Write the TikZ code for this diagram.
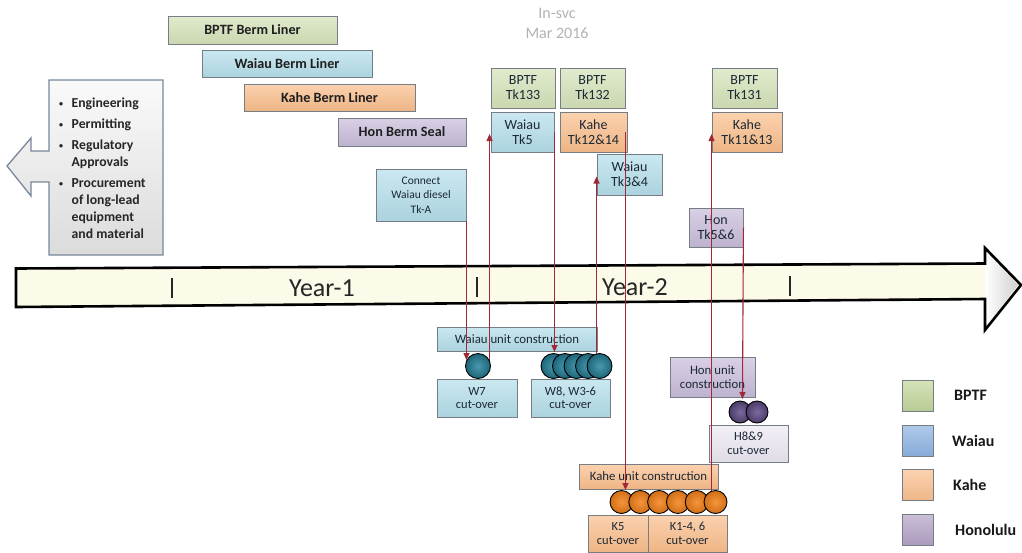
\documentclass[tikz,border=0pt]{standalone}
\usepackage{fontspec}
\setmainfont{Carlito}
\usetikzlibrary{arrows.meta,calc}

\definecolor{cGreen}{RGB}{212,226,184}
\definecolor{cCyan}{RGB}{180,222,234}
\definecolor{cOrange}{RGB}{250,190,140}
\definecolor{cPurple}{RGB}{200,188,218}
\definecolor{cLav}{RGB}{236,232,243}
\definecolor{cBorder}{RGB}{118,125,133}
\definecolor{cText}{RGB}{28,40,52}
\definecolor{cArrow}{RGB}{160,40,55}
\definecolor{cCream}{RGB}{252,250,232}
\definecolor{cSvc}{RGB}{178,178,178}
\definecolor{cCallB}{RGB}{120,135,155}
\definecolor{lGreen}{RGB}{195,214,155}
\definecolor{lBlue}{RGB}{142,180,227}
\definecolor{lOrange}{RGB}{250,192,143}
\definecolor{lPurple}{RGB}{179,162,199}
\definecolor{bTeal}{RGB}{40,135,160}
\definecolor{bOrange}{RGB}{245,130,25}
\definecolor{bPurple}{RGB}{100,80,140}

\newcommand\fHdr{\fontsize{14.2}{16}\selectfont\bfseries}
\newcommand\fTk{\fontsize{14}{15}\selectfont}
\newcommand\fCn{\fontsize{11.5}{14.5}\selectfont}
\newcommand\fUnit{\fontsize{12.8}{14}\selectfont}
\newcommand\fCo{\fontsize{12.5}{13.5}\selectfont}
\newcommand\fBul{\fontsize{13.7}{17}\selectfont\bfseries}
\newcommand\fYear{\fontsize{26}{28}\selectfont}
\newcommand\fSvc{\fontsize{16}{20}\selectfont}
\newcommand\fLeg{\fontsize{16}{18}\selectfont\bfseries}
\newcommand\smbul{\raisebox{1.5pt}{\fontsize{8}{8}\selectfont\textbullet}}

\begin{document}
\begin{tikzpicture}[x=1pt,y=-1pt,
  tbox/.style={draw=cBorder, line width=0.9pt, top color=#1!70!white, bottom color=#1!95!black,
    text=cText, align=center, inner sep=1pt},
  hdr/.style={font=\fHdr, text=black!88},
  tk/.style={font=\fTk},
  unit/.style={font=\fUnit},
  co/.style={font=\fCo},
  wball/.style={circle, inner sep=0pt, minimum size=25, draw=black, line width=0.9pt, inner color=bTeal!85!white, outer color=bTeal!75!black},
  kball/.style={circle, inner sep=0pt, minimum size=23, draw=black, line width=0.9pt, inner color=bOrange!85!white, outer color=bOrange!85!black},
  hball/.style={circle, inner sep=0pt, minimum size=22, draw=black, line width=0.9pt, inner color=bPurple!85!white, outer color=bPurple!75!black},
  conn/.style={draw=cArrow, line width=1.1pt, -{Triangle[length=7pt,width=6pt]}},
  legtxt/.style={font=\fLeg, text=black!90, anchor=west, inner sep=1pt}
]
\useasboundingbox (0,0) rectangle (1022,552);

% ---- timeline arrow ----
\shade[top color=white, middle color=black!28, bottom color=white] (30,310) rectangle (980,329);
\fill[cCream] (16,268.5) -- (985,263.5) -- (985,248) -- (1021,285) -- (985,330) -- (985,299) -- (16,307) -- cycle;
\shade[left color=white, right color=black!18] (985,264) -- (985,250) -- (1018,285) -- (985,328) -- (985,298.5) -- cycle;
\draw[black, line width=2.6pt, line join=miter] (16,268.5) -- (985,263.5) -- (985,248) -- (1021,285) -- (985,330) -- (985,299) -- (16,307) -- cycle;
\draw[black!85, line width=1.8pt] (172,278) -- (172,298);
\draw[black!85, line width=1.8pt] (477,277) -- (477,297);
\draw[black!85, line width=1.8pt] (790,276) -- (790,296);
\node[font=\fYear, text=black!85] (year1) at (322,288) {Year-1};
\node[font=\fYear, text=black!85] (year2) at (635,287) {Year-2};

% ---- left callout ----
\path[draw=cCallB, line width=1.3pt, top color=gray!4, bottom color=gray!28, line join=miter]
  (49,80) -- (163,80) -- (163,255) -- (49,255) -- (49,182) -- (31,182) -- (31,196)
  -- (7,166) -- (31,138) -- (31,151) -- (49,151) -- cycle;
\node[anchor=base west, inner sep=0pt, font=\fBul, text=black!85] (bul) at (59,107.5) {%
\begin{tabular}[t]{@{}l@{\hspace{8.5pt}}l@{}}
\smbul & Engineering\\[4pt]
\smbul & Permitting\\[4pt]
\smbul & Regulatory\\
 & Approvals\\[4pt]
\smbul & Procurement\\
 & of long-lead\\
 & equipment\\
 & and material
\end{tabular}};

% ---- in-service label ----
\node[font=\fSvc, text=cSvc, align=center] (svc) at (557,23) {In-svc\\Mar 2016};

% ---- header bars ----
\node[tbox=cGreen, hdr, minimum width=169, minimum height=28] (bptfberm) at (252.5,30) {BPTF Berm Liner};
\node[tbox=cCyan, hdr, minimum width=170, minimum height=27] (waiauberm) at (287,63.5) {Waiau Berm Liner};
\node[tbox=cOrange, hdr, minimum width=171, minimum height=27] (kaheberm) at (329.5,97.5) {Kahe Berm Liner};
\node[tbox=cPurple, hdr, minimum width=128, minimum height=28] (honberm) at (402,132) {Hon Berm Seal};
\node[tbox=cCyan, font=\fCn, minimum width=90, minimum height=52] (connect) at (421,195) {Connect\\Waiau diesel\\Tk-A};

% ---- tank boxes ----
\node[tbox=cGreen, tk, minimum width=64, minimum height=40] (bptf133) at (523,88) {BPTF\\Tk133};
\node[tbox=cGreen, tk, minimum width=65, minimum height=40] (bptf132) at (592.5,88) {BPTF\\Tk132};
\node[tbox=cGreen, tk, minimum width=65, minimum height=40] (bptf131) at (744.5,88) {BPTF\\Tk131};
\node[tbox=cCyan, tk, minimum width=63, minimum height=40] (waiautk5) at (522.5,132) {Waiau\\Tk5};
\node[tbox=cOrange, tk, minimum width=67, minimum height=40] (kahetk1214) at (593.5,132) {Kahe\\Tk12\&14};
\node[tbox=cOrange, tk, minimum width=70, minimum height=40] (kahetk1113) at (747,132) {Kahe\\Tk11\&13};
\node[tbox=cCyan, tk, minimum width=65, minimum height=41] (waiautk34) at (629.5,174.5) {Waiau\\Tk3\&4};
\node[tbox=cPurple, tk, minimum width=54, minimum height=39] (hontk56) at (716,227.5) {Hon\\Tk5\&6};

% ---- unit construction and cut-over boxes ----
\node[tbox=cCyan, unit, minimum width=160, minimum height=24] (waiauunit) at (517,339) {Waiau unit construction};
\node[tbox=cCyan, co, minimum width=80, minimum height=38] (w7co) at (477,398) {W7\\cut-over};
\node[tbox=cCyan, co, minimum width=79, minimum height=38] (w8co) at (570.5,398) {W8, W3-6\\cut-over};
\node[tbox=cPurple, unit, minimum width=85, minimum height=40] (honunit) at (712.5,377) {Hon unit\\construction};
\node[tbox=cLav, co, minimum width=79, minimum height=37] (h89co) at (748.5,443.5) {H8\&9\\cut-over};
\node[tbox=cOrange, unit, minimum width=139, minimum height=25] (kaheunit) at (648.5,476.5) {Kahe unit construction};
\node[tbox=cOrange, co, minimum width=60, minimum height=37] (k5co) at (618,533.5) {K5\\cut-over};
\node[tbox=cOrange, co, minimum width=79, minimum height=37] (k14co) at (687.5,533.5) {K1-4, 6\\cut-over};

% ---- legend ----
\node[tbox=lGreen, minimum width=31, minimum height=31] (lg1) at (918,395.5) {};
\node[tbox=lBlue, minimum width=31, minimum height=31] (lg2) at (918,440.5) {};
\node[tbox=lOrange, minimum width=31, minimum height=31] (lg3) at (918,485) {};
\node[tbox=lPurple, minimum width=31, minimum height=31] (lg4) at (918,530) {};
\node[legtxt] (lt1) at (953,395.5) {BPTF};
\node[legtxt] (lt2) at (951,440.5) {Waiau};
\node[legtxt] (lt3) at (952,485) {Kahe};
\node[legtxt] (lt4) at (954,530) {Honolulu};

% ---- connectors ----
\coordinate (w7c) at (478,366);
\coordinate (w8ec) at (599.5,366);
\coordinate (w8ac) at (553.5,366);
\coordinate (k1c) at (621.5,502);
\coordinate (k6c) at (715.5,502);
\coordinate (h1c) at (740,412);
\draw[conn] (connect.south east) -- ($(connect.south east |- w7c)+(0,-6)$);
\draw[conn] ($(w7c -| waiautk5.west)+(-1,0)$) -- ($(waiautk5.west)+(-1,2)$);
\draw[conn] (waiautk5.east) -- ($(waiautk5.east |- w8ac)+(0,-14)$);
\draw[conn] (w8ec -| waiautk34.west) -- ($(waiautk34.west)+(0,2)$);
\draw[conn] ($(kahetk1214.east)+(-2,0)$) -- ($(kahetk1214.east |- k1c)+(-2,-12)$);
\draw[conn] (k6c -| kahetk1113.west) -- ($(kahetk1113.west)+(0,2)$);
\draw[conn] (hontk56.east) -- ($(hontk56.east |- h1c)+(-1,-13)$);

% ---- cut-over balls ----
\node[wball] (w7) at (w7c) {};
\node[wball] (w8a) at (553.5,366) {};
\node[wball] (w8b) at (565,366) {};
\node[wball] (w8c) at (576.5,366) {};
\node[wball] (w8d) at (588,366) {};
\node[wball] (w8e) at (599.5,366) {};
\node[hball] (h1) at (740,412) {};
\node[hball] (h2) at (757,412) {};
\node[kball] (k1) at (621.5,502) {};
\node[kball] (k2) at (640.3,502) {};
\node[kball] (k3) at (659.1,502) {};
\node[kball] (k4) at (677.9,502) {};
\node[kball] (k5) at (696.7,502) {};
\node[kball] (k6) at (715.5,502) {};
\end{tikzpicture}
\end{document}
